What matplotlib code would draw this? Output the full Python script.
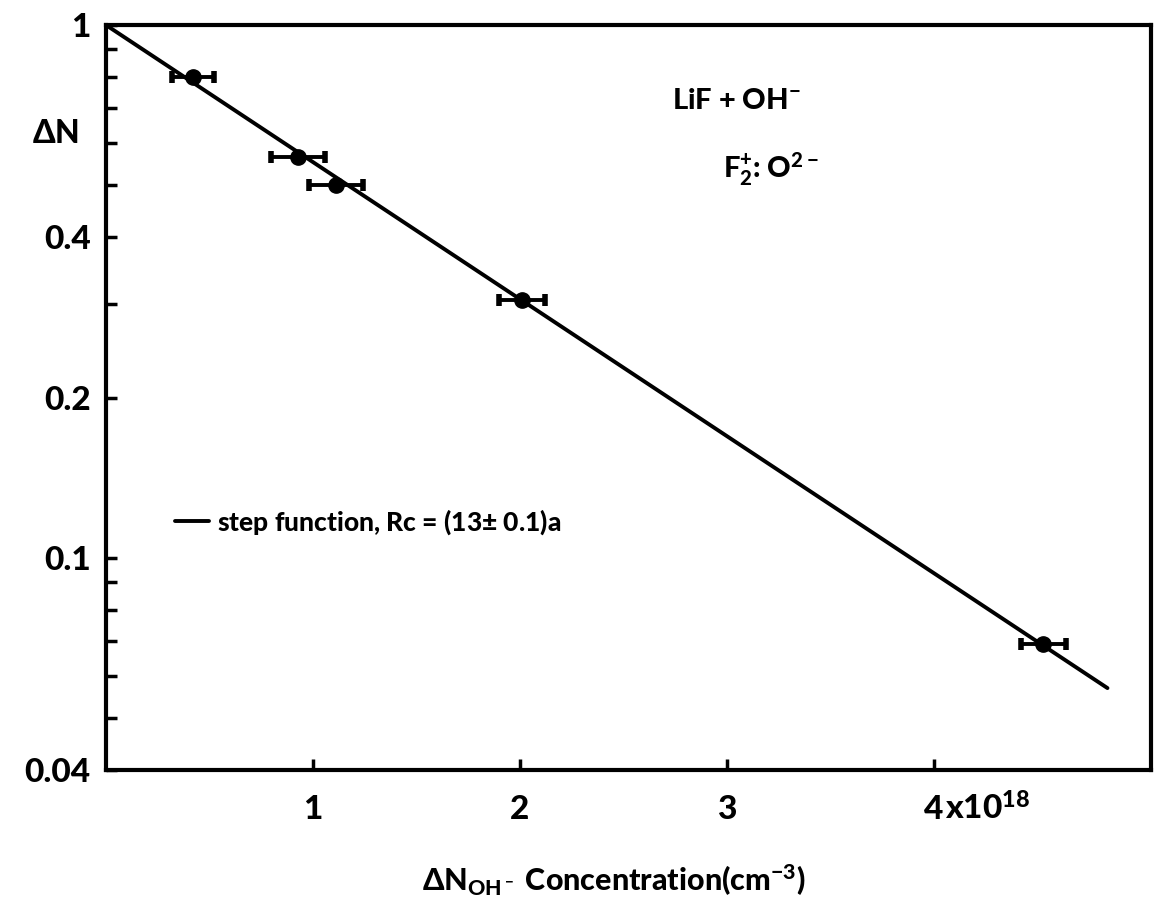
import matplotlib
matplotlib.use("Agg")
import matplotlib.pyplot as plt
from matplotlib.ticker import FixedLocator, NullFormatter

plt.rcParams["font.family"] = ["Lato", "DejaVu Sans"]
plt.rcParams["font.weight"] = "black"
plt.rcParams["mathtext.default"] = "regular"

# Measured points: OH- concentration (units of 1e18 cm^-3) vs. relative F2+:O2- yield
conc = [0.42, 0.93, 1.11, 2.01, 4.53]
delta_n = [0.80, 0.565, 0.50, 0.305, 0.069]
conc_err = [0.10, 0.13, 0.13, 0.11, 0.11]

# Step-function model curve (Rc = 1.3 a), endpoints of the drawn line
fit_conc = [0.0, 4.84]
fit_delta_n = [1.0, 0.057]

y_major = [0.04, 0.1, 0.2, 0.4, 1.0]
y_major_labels = ["0.04", "0.1", "0.2", "0.4", "1"]
y_minor = [0.05, 0.06, 0.07, 0.08, 0.09, 0.3, 0.5, 0.6, 0.7, 0.8, 0.9]
x_major = [1, 2, 3, 4]
x_major_labels = ["1", "2", "3", "4"]

fig = plt.figure(figsize=(11.63, 9.07), dpi=100)
ax = fig.add_axes([0.0911, 0.1510, 0.8985, 0.8214])

ax.set_yscale("log")
ax.set_xlim(0, 5.05)
ax.set_ylim(0.04, 1.0)

line, = ax.plot(fit_conc, fit_delta_n, color="black", lw=2.8, solid_capstyle="round")
ax.errorbar(conc, delta_n, xerr=conc_err, fmt="o", color="black", ms=11,
            elinewidth=2.8, capsize=4, capthick=4)

for side in ax.spines.values():
    side.set_linewidth(3)

ax.yaxis.set_major_locator(FixedLocator(y_major))
ax.set_yticklabels(y_major_labels)
ax.yaxis.set_minor_locator(FixedLocator(y_minor))
ax.yaxis.set_minor_formatter(NullFormatter())
ax.set_xticks(x_major)
ax.set_xticklabels(x_major_labels)
ax.xaxis.set_minor_locator(FixedLocator([]))

ax.tick_params(axis="both", which="both", direction="in", length=8, width=2.5,
               labelsize=24, top=False, right=False)
ax.tick_params(axis="y", which="major", pad=11)
ax.tick_params(axis="x", which="major", pad=18)

ax.annotate(r"x10$^{18}$", xy=(4, 0), xycoords=("data", "axes fraction"),
            xytext=(8, -35.5), textcoords="offset points", ha="left", va="baseline",
            fontsize=24)

ax.text(-0.048, 0.855, r"$\Delta$N", transform=ax.transAxes, fontsize=23,
        ha="center", va="center")

ax.text(0.603, 0.898, r"LiF + OH$^{-}$", transform=ax.transAxes, fontsize=21,
        ha="center", va="center")
ax.text(0.637, 0.806, r"F$_{2}^{+}$: O$^{2-}$", transform=ax.transAxes, fontsize=21,
        ha="center", va="center")

ax.legend([line], [r"step function, Rc = (13$\pm$ 0.1)a"], loc="center left",
          bbox_to_anchor=(0.066, 0.333), frameon=False, fontsize=19,
          handlelength=1.3, handletextpad=0.3, borderpad=0, borderaxespad=0)

fig.text(0.528, 0.029, r"$\Delta$N$_{OH^-}$ Concentration(cm$^{-3}$)", fontsize=22,
         ha="center", va="center")

fig.savefig("out.png", dpi=100, facecolor="white")
